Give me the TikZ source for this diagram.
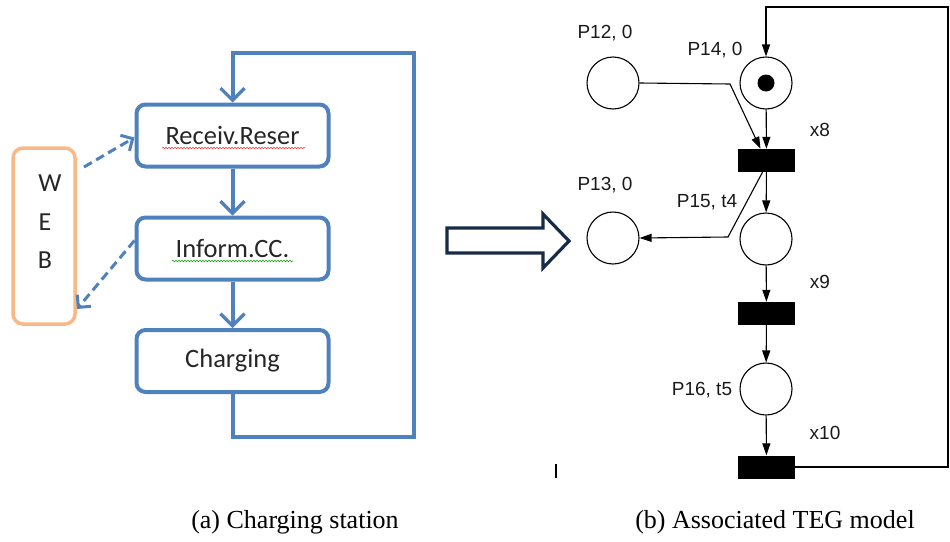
\documentclass[tikz,border=0pt]{standalone}
\usepackage{fontspec}
\setmainfont{Liberation Serif}
\newfontfamily\calib{Carlito}
\newfontfamily\arialf{Liberation Sans}
\usetikzlibrary{arrows.meta,decorations.pathmorphing}
\definecolor{flowblue}{RGB}{79,129,189}
\definecolor{weborange}{RGB}{248,184,135}
\definecolor{navy}{RGB}{23,43,72}
\tikzset{
  procbox/.style={draw=flowblue,line width=4pt,rounded corners=9pt,minimum width=192pt,minimum height=62pt,font=\calib\fontsize{26.5}{30}\selectfont,text=black!85,inner sep=0pt},
  flowarrow/.style={draw=flowblue,line width=4pt,-{Straight Barb[length=12pt,width=24pt,line width=3.2pt]}},
  dasharrow/.style={draw=flowblue,line width=3pt,dash pattern=on 9pt off 5pt,-{Straight Barb[length=9pt,width=18pt,line width=3pt]}},
  place/.style={circle,draw=black,line width=1.1pt,minimum size=52pt,inner sep=0pt},
  trans/.style={rectangle,fill=black,minimum width=57pt,minimum height=23pt,inner sep=0pt},
  plabel/.style={font=\arialf\fontsize{19}{21}\selectfont,text=black!90,inner sep=0pt},
  parc/.style={draw=black,line width=1.1pt,-{Triangle[length=12pt,width=8pt]}},
  wavy/.style={decorate,decoration={snake,amplitude=0.7pt,segment length=3pt},line width=0.6pt},
  caption/.style={font=\fontsize{26}{30}\selectfont,inner sep=0pt},
  webletter/.style={font=\calib\fontsize{26}{30}\selectfont,text=black!85,inner sep=0pt}
}
\begin{document}
\begin{tikzpicture}[x=1pt,y=-1pt]
\useasboundingbox (0,0) rectangle (950,541);
% ---- left part
\node[procbox] (recv) at (232.5,135.5) {Receiv.Reser};
\node[procbox] (info) at (232.5,248.5) {Inform.CC.};
\node[procbox] (charge) at (232.5,361) {Charging};
\node[draw=weborange,line width=3.5pt,rounded corners=10pt,minimum width=62pt,minimum height=176pt,inner sep=0pt] (web) at (44,236) {};
\node[webletter] (w) at (50,183) {W};
\node[webletter] (e) at (45,222) {E};
\node[webletter] (b) at (45,260) {B};
\draw[wavy,red!80!white] (162,148) -- (305,148);
\draw[wavy,green!65!black] (172,261) -- (293,261);
\draw[flowarrow] (recv) -- (info);
\draw[flowarrow] (info) -- (charge);
\coordinate (lbr) at (414,437);
\coordinate (ltr) at (414,53);
\draw[flowarrow] (charge.south) |- (lbr) -- (ltr) -| (recv.north);
\coordinate (webout) at (84,167);
\coordinate (webin) at (77,309);
\draw[dasharrow] (webout) -- ([yshift=-2pt]recv.west);
\draw[dasharrow] ([yshift=8pt]info.west) -- (webin);
% ---- hollow arrow
\draw[navy,line width=3.2pt,line join=miter] (447,228) -- (543,228) -- (543,214) -- (569,241) -- (543,268) -- (543,253) -- (447,253) -- cycle;
% ---- Petri net
\node[place] (p12) at (613,83) {};
\node[place] (p14) at (766,83) {};
\fill (p14.center) circle (8.5pt);
\node[trans] (x8) at (766.5,160.5) {};
\node[place] (p13) at (613,238) {};
\node[place] (p15) at (766,239) {};
\node[trans] (x9) at (766.5,313.5) {};
\node[place] (p16) at (766,389) {};
\node[trans] (x10) at (766.5,467) {};
\node[plabel] (l12) at (605,33) {P12, 0};
\node[plabel] (l14) at (715,50) {P14, 0};
\node[plabel] (l13) at (605,185) {P13, 0};
\node[plabel] (l15) at (707,202) {P15, t4};
\node[plabel] (l16) at (702,390) {P16, t5};
\node[plabel] (lx8) at (820,130) {x8};
\node[plabel] (lx9) at (820,282) {x9};
\node[plabel] (lx10) at (825,433) {x10};
\coordinate (bend1) at (730,84);
\draw[parc] (p12.east) -- (bend1) -- ([xshift=-6pt]x8.north);
\draw[parc] (p14) -- (x8);
\draw[parc] (x8) -- (p15);
\coordinate (bend2) at (728,237);
\draw[parc] ([xshift=-4pt]x8.south) -- (bend2) -- (p13.east);
\draw[parc] (p15) -- (x9);
\draw[parc] (x9) -- (p16);
\draw[parc] (p16) -- (x10);
\coordinate (rb) at (948,467);
\coordinate (rt) at (948,7);
\draw[parc] (x10.east) -- (rb) -- (rt) -| (p14.north);
\coordinate (tk1) at (556,464);
\coordinate (tk2) at (556,478);
\draw[line width=1.5pt] (tk1) -- (tk2);
% ---- captions
\node[caption] (capa) at (295,522) {(a) Charging station};
\node[caption] (capb) at (775,522) {(b) Associated TEG model};
\end{tikzpicture}
\end{document}
